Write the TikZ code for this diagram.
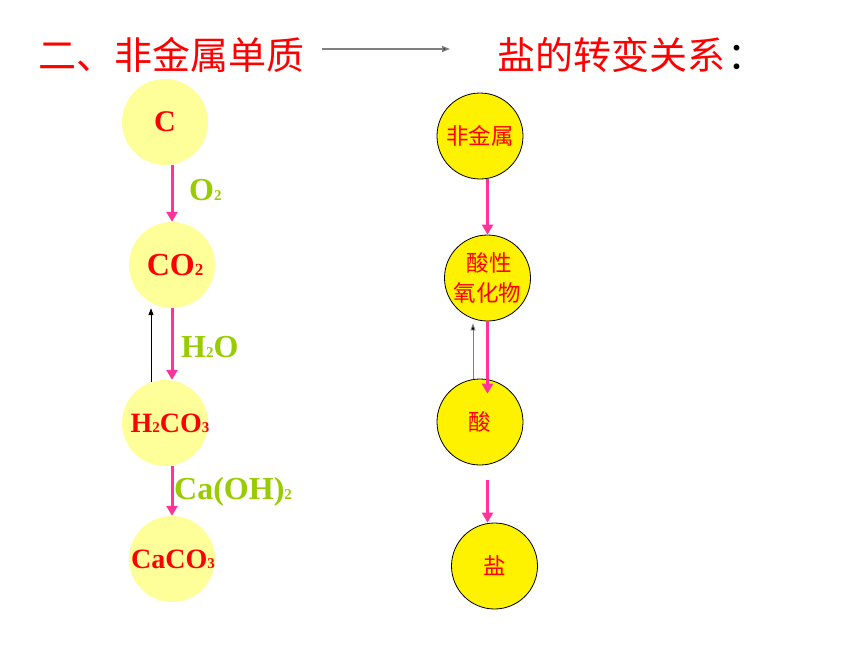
\documentclass[tikz,border=0pt]{standalone}
\usepackage{fontspec}
\setmainfont{Liberation Serif}
\newfontfamily\cjk{Noto Sans CJK SC}
\usetikzlibrary{arrows.meta}
\definecolor{pinkarr}{HTML}{FF3399}
\definecolor{lblgreen}{HTML}{99CC00}
\definecolor{paley}{HTML}{FFFF99}
\newcommand\sbs[1]{{\fontsize{15}{15}\selectfont #1}}
\newcommand\ctr[2]{\makebox[0pt][c]{\hspace{#1}#2}}
\begin{document}
\begin{tikzpicture}[x=1pt,y=-1pt,
  lcirc/.style={circle,fill=paley,minimum size=86pt,inner sep=0pt,text=red,font=\fontsize{28}{28}\selectfont\bfseries},
  rcirc/.style={circle,fill=yellow,draw=black,line width=0.8pt,minimum size=86pt,inner sep=0pt,text=red,font=\cjk\fontsize{22.5}{30}\selectfont},
  parr/.style={draw=pinkarr,line width=3pt,-{Triangle[width=11pt,length=10pt]}},
  thinarr/.style={draw=black,line width=0.9pt,-{Triangle[width=5pt,length=7pt]}},
  lbl/.style={text=lblgreen,font=\fontsize{32}{32}\selectfont\bfseries,anchor=west,inner sep=0pt},
  ttl/.style={anchor=west,inner sep=0pt,text=red,font=\cjk\fontsize{38}{38}\selectfont}]
\fill[white] (0,0) rectangle (860,645);
\path[use as bounding box] (0,0) rectangle (860,645);
% title
\node[ttl] (t1) at (38,55) {二、非金属单质};
\node[ttl] (t2) at (497,55) {盐的转变关系\kern2pt\textcolor{black}{：}};
\coordinate (a1) at (322,49);
\coordinate (a2) at (450,49);
\draw[draw=gray,line width=1.5pt,-{Triangle[width=6pt,length=8pt,fill=black]}] (a1) -- (a2);
% left column
\node[lcirc,font=\fontsize{30}{30}\selectfont\bfseries] (c) at (165,122) {C};
\node[lcirc,font=\fontsize{32}{32}\selectfont\bfseries] (co2) at (172,265) {\ctr{6pt}{CO{\fontsize{17}{17}\selectfont 2}}};
\node[lcirc] (h2co3) at (165,423) {\ctr{10pt}{H\sbs{2}CO\sbs{3}}};
\node[lcirc] (caco3) at (172,559) {\ctr{2pt}{CaCO\sbs{3}}};
\draw[parr] (c.south -| co2.center) -- (co2.north);
\draw[parr] (co2.south) -- (co2 |- h2co3.north);
\draw[parr] (caco3 |- h2co3.south) -- (caco3.north);
\draw[thinarr] ([xshift=-14pt,yshift=-2pt]h2co3.north) -- ([xshift=-21pt]co2.south);
\node[lbl] (lo2) at (189,190) {O\sbs{2}};
\node[lbl] (lh2o) at (181,347) {H\sbs{2}O};
\node[lbl] (lcaoh) at (174,492) {Ca(OH)\sbs{2}};
% right column
\node[rcirc] (nm) at (480,136) {非金属};
\node[rcirc,align=center] (ox) at (487.5,278) {\,酸性\\氧化物};
\node[rcirc] (acid) at (480,422) {酸};
\node[rcirc] (salt) at (494.5,566) {盐};
\draw[parr] (nm.south -| ox.center) -- (ox.north);
\draw[parr] (ox.south) -- ([yshift=-15pt]ox |- acid.north);
\draw[parr] ([yshift=-15pt]ox |- acid.south) -- (ox |- salt.north);
\draw[thinarr,draw=gray,-{Triangle[width=5pt,length=7pt,fill=black]}] ([xshift=-7pt]acid.north) -- ([xshift=-14.5pt,yshift=-2pt]ox.south);
\end{tikzpicture}
\end{document}
